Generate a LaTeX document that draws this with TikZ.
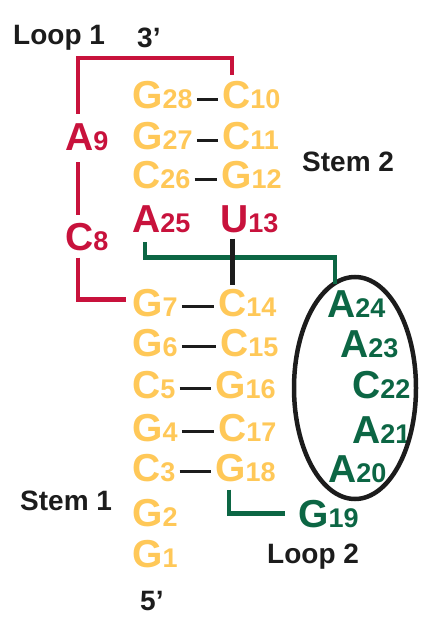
\documentclass[tikz,border=0pt]{standalone}
\usepackage{fontspec}
\setmainfont{Liberation Sans}
\usepackage{tikz}
\usetikzlibrary{ positioning, % For easy node-relative placements
                 shapes,      % For the ellipse round loop 2
               }

\definecolor{stemyellow}{RGB}{255,200,88}
\definecolor{loopred}{RGB}{200,18,60}
\definecolor{loopgreen}{RGB}{12,102,68}
\definecolor{ink}{RGB}{28,28,28}

% base letter with its position number, smaller, on the same baseline
\newcommand{\nuc}[2]{#1{\fontsize{27}{27}\selectfont #2}}

\begin{document}
\begin{tikzpicture}[x=1pt, y=-1pt,
  ntbase/.style={anchor=base west, inner sep=0pt, font=\bfseries\fontsize{39}{39}\selectfont},
  stemnt/.style={ntbase, text=stemyellow},
  rednt/.style={ntbase, text=loopred},
  greennt/.style={ntbase, text=loopgreen},
  tagtext/.style={anchor=base west, inner sep=0pt, text=ink, font=\bfseries\fontsize{28}{28}\selectfont},
  pair/.style={ink, line width=3.5pt, shorten <=4pt, shorten >=4pt},
  loopone/.style={loopred, line width=4.5pt},
  looptwo/.style={loopgreen, line width=4.5pt},
  ]
  \useasboundingbox (0,0) rectangle (420,617);

  % stem 2
  \node[stemnt] (g_28) at (132,109) {\nuc{G}{28}};
  \node[stemnt] (c_10) at (222,109) {\nuc{C}{10}};
  \node[stemnt] (g_27) at (132,150) {\nuc{G}{27}};
  \node[stemnt] (c_11) at (222,150) {\nuc{C}{11}};
  \node[stemnt] (c_26) at (132,189) {\nuc{C}{26}};
  \node[stemnt] (g_12) at (221,189) {\nuc{G}{12}};

  % loop 1 and the unpaired ones
  \node[rednt] (a_9) at (65,151) {\nuc{A}{9}};
  \node[rednt] (c_8) at (65,251) {\nuc{C}{8}};
  \node[rednt] (a_25) at (132,233) {\nuc{A}{25}};
  \node[rednt] (u_13) at (220,233) {\nuc{U}{13}};

  % stem 1
  \node[stemnt] (g_7) at (132,316) {\nuc{G}{7}};
  \node[stemnt] (c_14) at (218,316) {\nuc{C}{14}};
  \node[stemnt] (g_6) at (132,356) {\nuc{G}{6}};
  \node[stemnt] (c_15) at (220,356) {\nuc{C}{15}};
  \node[stemnt] (c_5) at (132,398) {\nuc{C}{5}};
  \node[stemnt] (g_16) at (215,398) {\nuc{G}{16}};
  \node[stemnt] (g_4) at (132,441) {\nuc{G}{4}};
  \node[stemnt] (c_17) at (218,441) {\nuc{C}{17}};
  \node[stemnt] (c_3) at (132,481) {\nuc{C}{3}};
  \node[stemnt] (g_18) at (215,481) {\nuc{G}{18}};
  \node[stemnt] (g_2) at (132,526) {\nuc{G}{2}};
  \node[stemnt] (g_1) at (132,567) {\nuc{G}{1}};

  % loop 2
  \node[greennt] (a_24) at (327,317) {\nuc{A}{24}};
  \node[greennt] (a_23) at (340,357) {\nuc{A}{23}};
  \node[greennt] (c_22) at (352,398) {\nuc{C}{22}};
  \node[greennt] (a_21) at (352,443) {\nuc{A}{21}};
  \node[greennt] (a_20) at (328,482) {\nuc{A}{20}};
  \node[greennt] (g_19) at (298,527) {\nuc{G}{19}};
  \node[draw=ink, line width=4.5pt, ellipse, inner sep=0pt,
        minimum width=122pt, minimum height=222pt] (loop_ring) at (355,388) {};

  % labels
  \node[tagtext] (loop_one) at (13,45) {Loop 1};
  \node[tagtext] (three_end) at (137,48) {3’};
  \node[tagtext] (stem_two) at (302,172) {Stem 2};
  \node[tagtext] (stem_one) at (20,510) {Stem 1};
  \node[tagtext] (loop_two) at (267,563) {Loop 2};
  \node[tagtext] (five_end) at (140,610) {5’};

  % base pairs
  \draw[pair] ([yshift=-4pt]g_28.east) -- ([yshift=-4pt]c_10.west);
  \draw[pair] ([yshift=-4pt]g_27.east) -- ([yshift=-4pt]c_11.west);
  \draw[pair] ([yshift=-4pt]c_26.east) -- ([yshift=-4pt]g_12.west);
  \draw[pair] ([yshift=-4pt]g_7.east) -- ([yshift=-4pt]c_14.west);
  \draw[pair] ([yshift=-4pt]g_6.east) -- ([yshift=-4pt]c_15.west);
  \draw[pair] ([yshift=-4pt]c_5.east) -- ([yshift=-4pt]g_16.west);
  \draw[pair] ([yshift=-4pt]g_4.east) -- ([yshift=-4pt]c_17.west);
  \draw[pair] ([yshift=-4pt]c_3.east) -- ([yshift=-4pt]g_18.west);

  % backbone of loop 1
  \draw[loopone] ([xshift=13pt,yshift=10pt]a_9.north west) -- ++(0,-56) -| ([xshift=10pt,yshift=7pt]c_10.north west);
  \draw[loopone] ([xshift=13pt,yshift=-11pt]a_9.south west) -- ([xshift=13pt,yshift=9pt]c_8.north west);
  \draw[loopone] ([xshift=13pt,yshift=-6pt]c_8.south west) |- ([xshift=-6pt,yshift=3pt]g_7.west);

  % backbone of loop 2
  \draw[looptwo] ([xshift=13pt,yshift=-9pt]a_25.south west) -- ++(0,15) -| ([xshift=8pt,yshift=6pt]a_24.north west);
  \draw[ink, line width=5pt] ([xshift=12pt,yshift=-5pt]u_13.south west) -- ([xshift=14pt,yshift=4pt]c_14.north west);
  \draw[looptwo] ([xshift=14pt,yshift=-8pt]g_18.south west) |- ([xshift=-13pt]g_19.west);

\end{tikzpicture}
\end{document}
